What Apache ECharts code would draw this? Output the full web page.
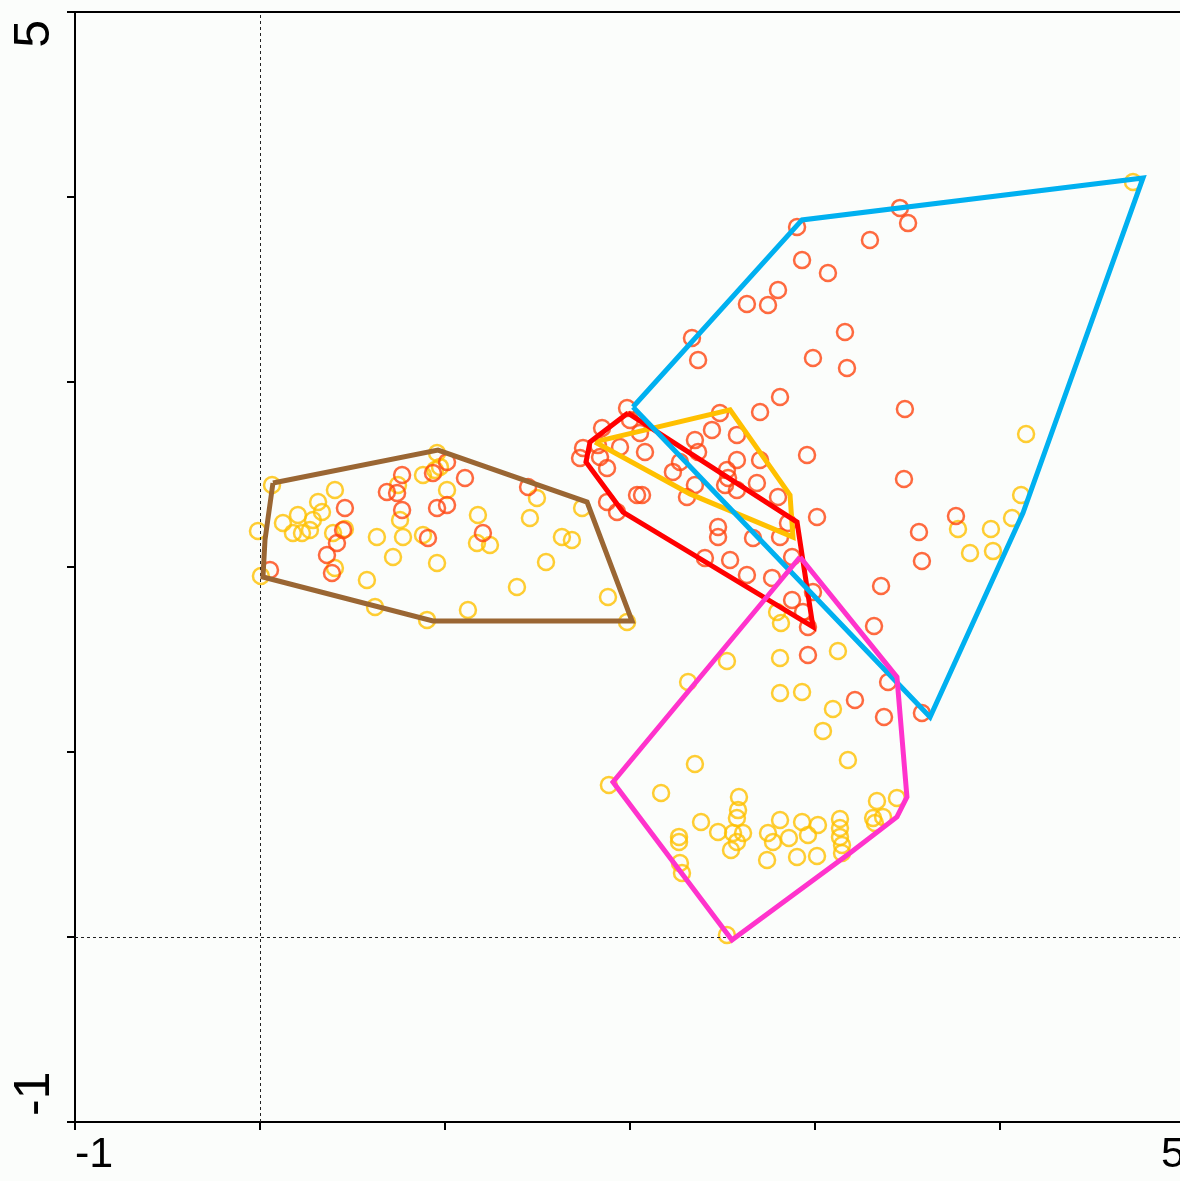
<!DOCTYPE html>
<html>
<head>
<meta charset="utf-8">
<script src="https://cdn.jsdelivr.net/npm/echarts@6/dist/echarts.min.js"></script>
</head>
<body style="margin:0;background:#fbfdfb">
<div id="chart" style="width:1180px;height:1181px"></div>
<script type="text/javascript">
// axis range and the labels shown at the ends
var axisMin = -1;
var axisMax = 5;
var endLabels = ['-1', '5'];

// amber sample points [x, y]
var amberPts = [
  [0.065, 2.443], [-0.011, 2.195], [0.005, 1.951], [0.124, 2.238], [0.205, 2.281],
  [0.178, 2.184], [0.227, 2.184], [0.270, 2.200], [0.286, 2.254], [0.314, 2.351],
  [0.335, 2.297], [0.405, 2.416], [0.395, 2.184], [0.459, 2.205], [0.405, 1.995],
  [0.578, 1.930], [0.632, 2.162], [0.622, 1.784], [0.719, 2.054], [0.773, 2.162],
  [0.757, 2.254], [0.746, 2.443], [0.881, 2.497], [0.957, 2.616], [0.946, 2.524],
  [0.973, 2.541], [1.011, 2.416], [0.881, 2.173], [0.957, 2.022], [0.903, 1.714],
  [1.178, 2.281], [1.173, 2.130], [1.243, 2.119], [1.124, 1.768], [1.389, 1.892],
  [1.459, 2.265], [1.497, 2.373], [1.546, 2.027], [1.632, 2.162], [1.686, 2.146],
  [1.741, 2.319], [1.881, 1.838], [1.984, 1.703],
  [4.141, 2.719], [4.114, 2.389], [4.065, 2.265], [3.773, 2.205], [3.951, 2.205],
  [3.838, 2.076], [3.962, 2.086], [4.719, 4.081],
  [2.795, 1.757], [2.816, 1.697], [2.811, 1.508], [2.524, 1.492], [2.314, 1.378],
  [2.811, 1.319], [2.930, 1.324], [3.124, 1.546], [3.097, 1.232], [3.043, 1.114],
  [3.178, 0.957], [2.351, 0.935], [1.886, 0.822], [2.168, 0.778], [2.589, 0.757],
  [2.584, 0.686], [2.578, 0.643], [2.384, 0.622], [2.476, 0.568], [2.557, 0.562],
  [2.611, 0.562], [2.578, 0.514], [2.546, 0.470], [2.265, 0.541], [2.265, 0.514],
  [2.270, 0.400], [2.281, 0.346], [2.746, 0.562], [2.773, 0.514], [2.811, 0.632],
  [2.859, 0.535], [2.930, 0.622], [2.962, 0.551], [3.016, 0.605], [2.741, 0.416],
  [2.903, 0.432], [3.011, 0.438], [3.135, 0.638], [3.135, 0.589], [3.135, 0.541],
  [3.146, 0.497], [3.146, 0.454], [3.335, 0.735], [3.443, 0.751], [3.314, 0.643],
  [3.368, 0.649], [3.324, 0.616], [2.524, 0.011]
];

// red-orange sample points [x, y]
var redPts = [
  [0.768, 2.497], [0.686, 2.405], [0.741, 2.400], [0.768, 2.308], [0.459, 2.319],
  [0.449, 2.200], [0.416, 2.130], [0.362, 2.065], [0.389, 1.968], [0.054, 1.984],
  [0.957, 2.319], [1.011, 2.335], [0.908, 2.157], [1.108, 2.481], [1.205, 2.184],
  [1.449, 2.432], [1.011, 2.568], [0.935, 2.508],
  [2.811, 2.919], [2.703, 2.838], [2.486, 2.832], [2.443, 2.741], [2.578, 2.714],
  [2.351, 2.686], [2.368, 2.622], [1.946, 2.649], [2.081, 2.622], [1.746, 2.643],
  [1.730, 2.589], [1.838, 2.595], [1.876, 2.535], [2.000, 2.795], [1.984, 2.859],
  [1.849, 2.751], [2.054, 2.724], [2.232, 2.514], [2.270, 2.568], [2.351, 2.443],
  [2.308, 2.378], [2.524, 2.524], [2.530, 2.481], [2.578, 2.578], [2.578, 2.416],
  [2.686, 2.454], [2.703, 2.578], [2.800, 2.378], [2.957, 2.605], [3.011, 2.270],
  [2.038, 2.389], [2.065, 2.389], [1.876, 2.351], [1.930, 2.297], [2.476, 2.216],
  [2.476, 2.162], [2.665, 2.157], [2.811, 2.162], [2.854, 2.238], [2.405, 2.049],
  [2.541, 2.038], [2.632, 1.957], [2.768, 1.941], [2.876, 2.054], [2.989, 1.865],
  [2.876, 1.822], [2.935, 1.757], [2.962, 1.676], [1.827, 2.659], [2.514, 2.443],
  [3.459, 3.941], [3.503, 3.859], [2.903, 3.838], [3.297, 3.768], [2.930, 3.659],
  [3.070, 3.589], [2.800, 3.497], [2.746, 3.416], [2.632, 3.422], [2.335, 3.238],
  [2.368, 3.119], [3.162, 3.270], [2.989, 3.130], [3.173, 3.076], [3.486, 2.854],
  [3.481, 2.476], [3.762, 2.276], [3.562, 2.189], [3.578, 2.032], [3.357, 1.897],
  [3.319, 1.681], [2.962, 1.524], [3.216, 1.281], [3.373, 1.189], [3.395, 1.378],
  [3.578, 1.211]
];

// group outlines, vertices in drawing order
var brownHull = [[0.070, 2.454], [0.962, 2.632], [1.768, 2.351], [2.011, 1.708], [0.935, 1.708], [0.016, 1.946], [0.027, 2.146]];
var yellowHull = [[1.811, 2.676], [2.541, 2.849], [2.865, 2.389], [2.881, 2.162], [2.324, 2.395]];
var redHull = [[1.989, 2.832], [2.903, 2.243], [2.989, 1.676], [1.962, 2.297], [1.762, 2.568], [1.784, 2.676]];
var cyanHull = [[2.016, 2.865], [2.930, 3.876], [4.773, 4.103], [4.124, 2.292], [3.622, 1.189]];
var magentaHull = [[2.919, 2.054], [3.443, 1.405], [3.497, 0.757], [3.443, 0.649], [3.189, 0.454], [2.551, -0.016], [1.908, 0.838]];

function closed(pts) {
  return pts.concat([pts[0]]);
}

function hull(name, pts, color) {
  return {
    name: name,
    type: 'line',
    data: closed(pts),
    symbol: 'none',
    silent: true,
    z: 5,
    lineStyle: { color: color, width: 5, join: 'miter' }
  };
}

function pointSeries(name, pts, color) {
  return {
    name: name,
    type: 'scatter',
    data: pts,
    symbol: 'circle',
    symbolSize: 16,
    z: 3,
    itemStyle: { color: 'rgba(0,0,0,0)', borderColor: color, borderWidth: 2.5 }
  };
}

function endFormatter(v) {
  if (v === axisMin) return endLabels[0];
  if (v === axisMax) return endLabels[1];
  return '';
}

var chart = echarts.init(document.getElementById('chart'));
var option = {
  animation: false,
  backgroundColor: '#fbfdfb',
  grid: {
    left: 75, top: 12, width: 1110, height: 1110,
    outerBoundsMode: 'none', containLabel: false,
    show: true, borderColor: '#000', borderWidth: 2, backgroundColor: 'transparent'
  },
  xAxis: {
    type: 'value', min: axisMin, max: axisMax, interval: 1,
    splitLine: { show: false },
    axisLine: { onZero: false, lineStyle: { color: '#000', width: 2 } },
    axisTick: { show: true, length: 8, lineStyle: { color: '#000', width: 2 } },
    axisLabel: {
      formatter: endFormatter, color: '#000', fontSize: 43,
      fontFamily: 'Liberation Sans, Arial, sans-serif', margin: 12,
      showMinLabel: true, showMaxLabel: true, hideOverlap: false,
      alignMinLabel: 'left', alignMaxLabel: 'right'
    }
  },
  yAxis: {
    type: 'value', min: axisMin, max: axisMax, interval: 1,
    splitLine: { show: false },
    axisLine: { onZero: false, lineStyle: { color: '#000', width: 2 } },
    axisTick: { show: true, length: 8, lineStyle: { color: '#000', width: 2 } },
    axisLabel: {
      formatter: endFormatter, color: '#000', fontSize: 50, rotate: 90,
      fontFamily: 'Liberation Sans, Arial, sans-serif', margin: 15,
      showMinLabel: true, showMaxLabel: true, hideOverlap: false,
      alignMinLabel: 'left', alignMaxLabel: 'right',
      padding: [0, 8, 0, 6]
    }
  },
  series: [
    pointSeries('amber', amberPts, '#ffc000'),
    pointSeries('red', redPts, '#ff4510'),
    {
      type: 'line', data: [], silent: true,
      markLine: {
        symbol: 'none', silent: true, label: { show: false },
        lineStyle: { color: '#222', width: 1, type: [3, 3] },
        data: [{ xAxis: 0 }, { yAxis: 0 }]
      }
    },
    hull('brown', brownHull, '#9a6633'),
    hull('yellow', yellowHull, '#ffc000'),
    hull('redHull', redHull, '#ff0000'),
    hull('cyan', cyanHull, '#00b0f0'),
    hull('magenta', magentaHull, '#ff33cc')
  ]
};
chart.setOption(option);
</script>
</body>
</html>
